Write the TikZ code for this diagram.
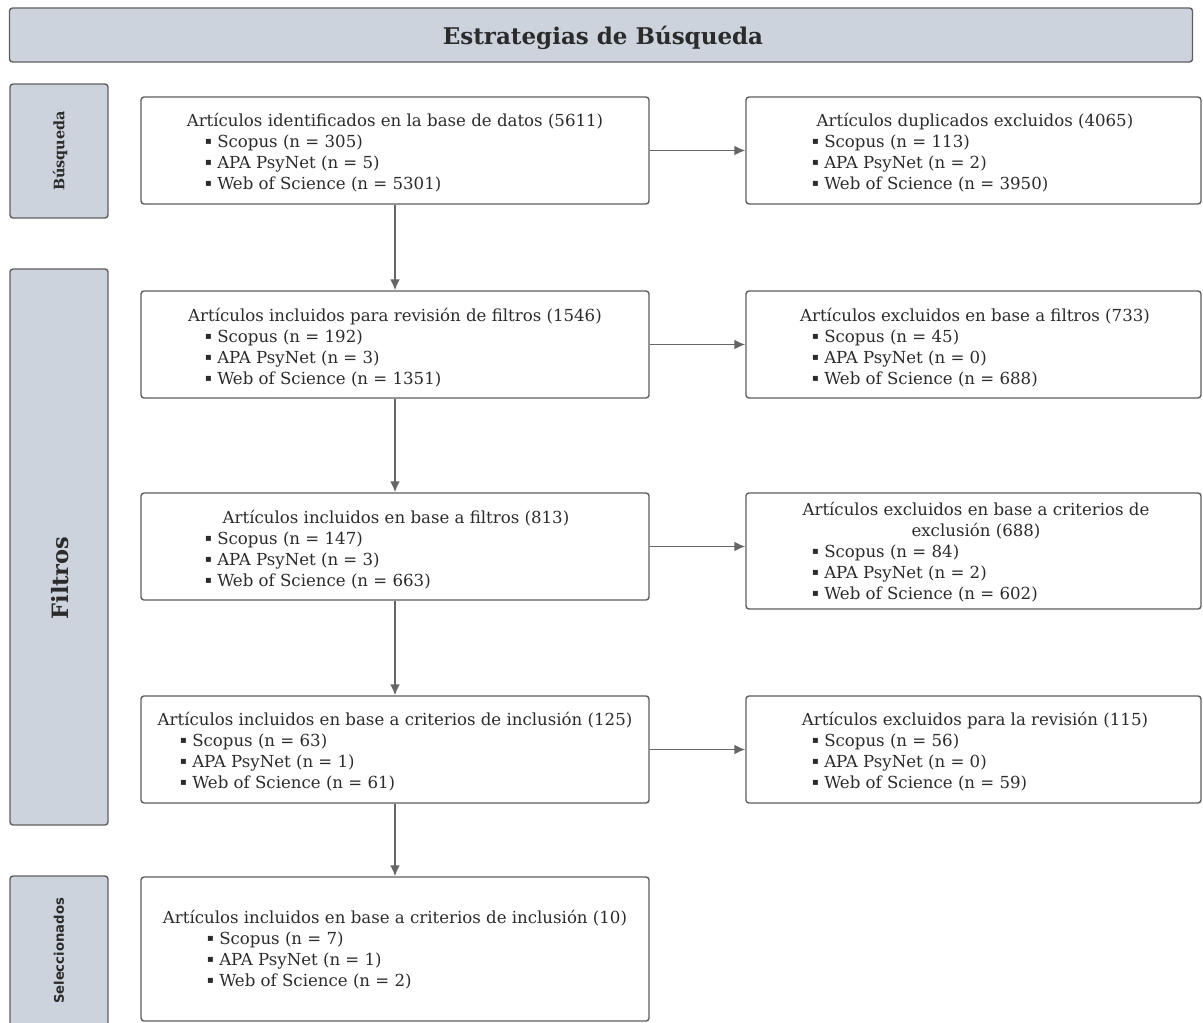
\documentclass[tikz,border=0pt]{standalone}
\usepackage{fontspec}
\setmainfont{DejaVu Serif}
\newfontfamily\bulletfont{DejaVu Sans}
\newfontfamily\labelsans{DejaVu Sans}
\usetikzlibrary{arrows.meta}
\definecolor{sidefill}{HTML}{CDD3DC}
\definecolor{edgec}{HTML}{5F5F5F}
\definecolor{txt}{HTML}{2B2B2B}
\definecolor{arrowc}{HTML}{666666}
\newcommand{\bx}{\raisebox{0.28ex}{\bulletfont\fontsize{10}{10}\selectfont▪}\ }
\begin{document}
\begin{tikzpicture}[x=1pt,y=-1pt,
  box/.style={draw=edgec, line width=1.4pt, rounded corners=3pt, fill=white, inner sep=0pt},
  side/.style={draw=edgec, line width=1.4pt, rounded corners=3pt, fill=sidefill, inner sep=0pt},
  head/.style={anchor=mid, text=txt, font=\fontsize{16.6}{18}\selectfont, inner sep=0pt},
  item/.style={anchor=mid west, text=txt, font=\fontsize{16.6}{18}\selectfont, inner sep=0pt},
  sidelabel/.style={rotate=90, text=txt, inner sep=0pt},
  conn/.style={draw=arrowc, line width=1.9pt, -{Latex[length=11pt,width=10pt]}}
]
\clip (0,0) rectangle (1203,1023);
\fill[white] (0,0) rectangle (1203,1023);

% title
\node[side, minimum width=1183pt, minimum height=54pt] (title) at (601,35) {};
\node[text=txt, font=\fontsize{23}{26}\selectfont\bfseries, anchor=mid, inner sep=0pt] (titletext) at (603,42) {Estrategias de Búsqueda};

% side boxes
\node[side, minimum width=98pt, minimum height=134pt] (s1) at (59,151) {};
\node[sidelabel, font=\fontsize{14.4}{16}\selectfont\bfseries] (s1t) at (60,151) {Búsqueda};
\node[side, minimum width=98pt, minimum height=556pt] (s2) at (59,547) {};
\node[sidelabel, font=\fontsize{22.5}{26}\selectfont\bfseries] (s2t) at (60,578) {Filtros};
\node[side, minimum width=98pt, minimum height=160pt] (s3) at (59,956) {};
\node[sidelabel, font=\labelsans\fontsize{13.2}{15}\selectfont\bfseries] (s3t) at (59,951) {Seleccionados};

% main column
\node[box, minimum width=508pt, minimum height=107pt] (b1) at (395,150.5) {};
\node[box, minimum width=508pt, minimum height=107pt] (b2) at (395,344.5) {};
\node[box, minimum width=508pt, minimum height=107pt] (b3) at (395,546.5) {};
\node[box, minimum width=508pt, minimum height=107pt] (b4) at (395,749.5) {};
\node[box, minimum width=508pt, minimum height=144pt] (b5) at (395,949) {};

% right column
\node[box, minimum width=455pt, minimum height=107pt] (r1) at (973.5,150.5) {};
\node[box, minimum width=455pt, minimum height=107pt] (r2) at (973.5,344.5) {};
\node[box, minimum width=455pt, minimum height=116pt] (r3) at (973.5,551) {};
\node[box, minimum width=455pt, minimum height=107pt] (r4) at (973.5,749.5) {};

% texts b1
\node[head] (b1h) at (395,123.5) {Artículos identificados en la base de datos (5611)};
\node[item] (b1a) at (205,144.5) {\bx Scopus (n = 305)};
\node[item] (b1b) at (205,165.5) {\bx APA PsyNet (n = 5)};
\node[item] (b1c) at (205,186.5) {\bx Web of Science (n = 5301)};
% b2
\node[head] (b2h) at (395,318.5) {Artículos incluidos para revisión de filtros (1546)};
\node[item] (b2a) at (205,339.5) {\bx Scopus (n = 192)};
\node[item] (b2b) at (205,360.5) {\bx APA PsyNet (n = 3)};
\node[item] (b2c) at (205,381.5) {\bx Web of Science (n = 1351)};
% b3
\node[head] (b3h) at (396,520.5) {Artículos incluidos en base a filtros (813)};
\node[item] (b3a) at (205,541.5) {\bx Scopus (n = 147)};
\node[item] (b3b) at (205,562.5) {\bx APA PsyNet (n = 3)};
\node[item] (b3c) at (205,583.5) {\bx Web of Science (n = 663)};
% b4
\node[head] (b4h) at (395,722.5) {Artículos incluidos en base a criterios de inclusión (125)};
\node[item] (b4a) at (180,743.5) {\bx Scopus (n = 63)};
\node[item] (b4b) at (180,764.5) {\bx APA PsyNet (n = 1)};
\node[item] (b4c) at (180,785.5) {\bx Web of Science (n = 61)};
% b5
\node[head] (b5h) at (395,920.5) {Artículos incluidos en base a criterios de inclusión (10)};
\node[item] (b5a) at (207,941.5) {\bx Scopus (n = 7)};
\node[item] (b5b) at (207,962.5) {\bx APA PsyNet (n = 1)};
\node[item] (b5c) at (207,983.5) {\bx Web of Science (n = 2)};

% r1
\node[head] (r1h) at (975,123.5) {Artículos duplicados excluidos (4065)};
\node[item] (r1a) at (812,144.5) {\bx Scopus (n = 113)};
\node[item] (r1b) at (812,165.5) {\bx APA PsyNet (n = 2)};
\node[item] (r1c) at (812,186.5) {\bx Web of Science (n = 3950)};
% r2
\node[head] (r2h) at (975,318.5) {Artículos excluidos en base a filtros (733)};
\node[item] (r2a) at (812,339.5) {\bx Scopus (n = 45)};
\node[item] (r2b) at (812,360.5) {\bx APA PsyNet (n = 0)};
\node[item] (r2c) at (812,381.5) {\bx Web of Science (n = 688)};
% r3
\node[head] (r3h1) at (976,512.5) {Artículos excluidos en base a criterios de};
\node[head] (r3h2) at (976,533.5) {exclusión (688)};
\node[item] (r3a) at (812,554.5) {\bx Scopus (n = 84)};
\node[item] (r3b) at (812,575.5) {\bx APA PsyNet (n = 2)};
\node[item] (r3c) at (812,596.5) {\bx Web of Science (n = 602)};
% r4
\node[head] (r4h) at (975,722.5) {Artículos excluidos para la revisión (115)};
\node[item] (r4a) at (812,743.5) {\bx Scopus (n = 56)};
\node[item] (r4b) at (812,764.5) {\bx APA PsyNet (n = 0)};
\node[item] (r4c) at (812,785.5) {\bx Web of Science (n = 59)};

% connectors
\draw[conn] (b1.south) -- (b2.north);
\draw[conn] (b2.south) -- (b3.north);
\draw[conn] (b3.south) -- (b4.north);
\draw[conn] (b4.south) -- (b5.north);
\draw[conn] (b1.east) -- (r1.west);
\draw[conn] (b2.east) -- (r2.west);
\draw[conn] (b3.east) -- (b3.east -| r3.west);
\draw[conn] (b4.east) -- (r4.west);
\end{tikzpicture}
\end{document}
